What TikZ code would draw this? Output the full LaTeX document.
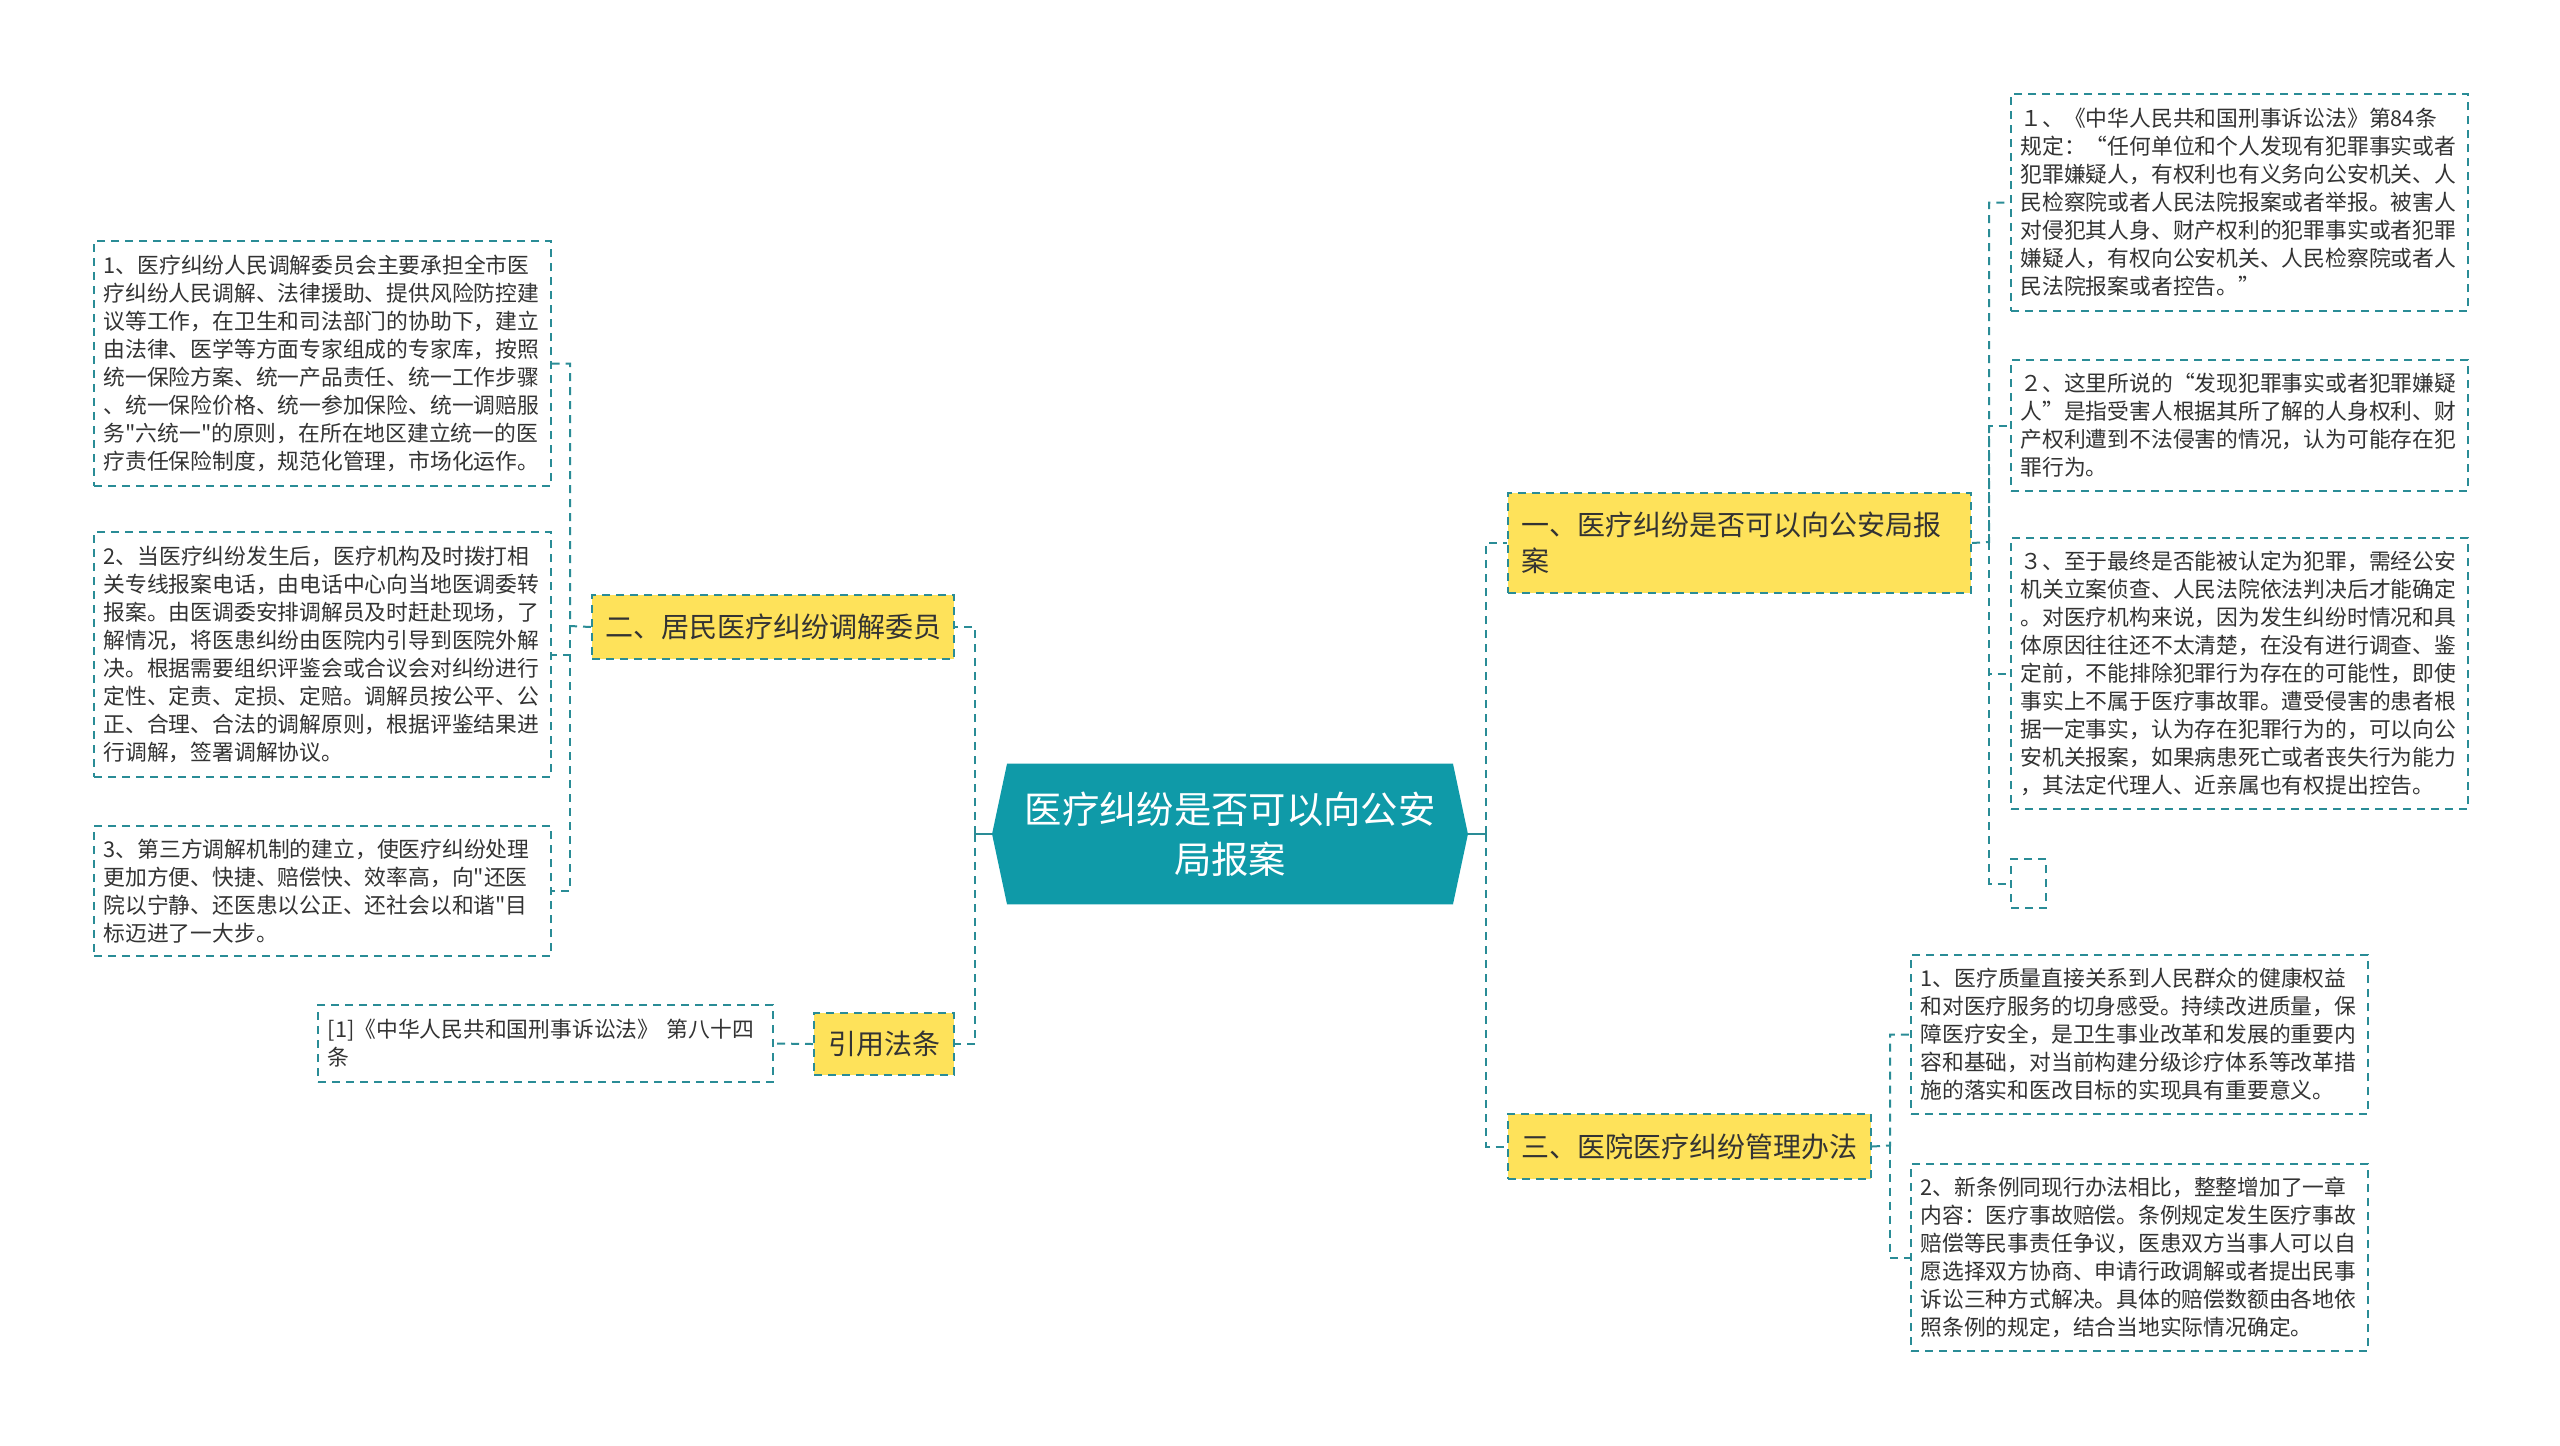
\documentclass[tikz,border=0pt]{standalone}
\usepackage{fontspec}
\setmainfont{Noto Sans CJK SC}
\newfontfamily\cjk{Noto Sans CJK SC}
\usepackage{tikz}
\usetikzlibrary{calc,backgrounds}

\definecolor{linkteal}{HTML}{2A8C96}
\definecolor{rootteal}{HTML}{0F9AA8}
\definecolor{topicyellow}{HTML}{FEE25A}
\definecolor{textgray}{HTML}{333333}

\tikzset{
  link/.style={draw=linkteal,line width=0.9pt,dash pattern=on 3.6pt off 2.7pt},
  leafbox/.style={draw=linkteal,line width=0.9pt,dash pattern=on 3.6pt off 2.7pt,anchor=north west,inner sep=0pt},
  leaf/.style={leafbox,text=textgray,font=\cjk\fontsize{9.8}{12.6}\selectfont,align=left,text width=197pt,inner xsep=4.3pt,minimum width=205.65pt},
  topic/.style={leafbox,fill=topicyellow,text=textgray,font=\cjk\fontsize{12.6}{16.2}\selectfont},
}

\begin{document}
\begin{tikzpicture}[x=0.45pt,y=-0.45pt]
        \useasboundingbox (0,0) rectangle (2560,1445);

        % centre
        \node[text=white,font=\cjk\fontsize{16.8}{22.5}\selectfont,align=center,minimum width=213.75pt,minimum height=63pt,inner sep=0pt](root)at(1230,834){医疗纠纷是否可以向公安\\局报案};
        \begin{scope}[on background layer]
            \fill[white] (0,0) rectangle (2560,1445);
            \fill[rootteal] ($(root.north west)+(15,0)$) -- ($(root.north east)+(-15,0)$) -- (root.east) -- ($(root.south east)+(-15,0)$) -- ($(root.south west)+(15,0)$) -- (root.west) -- cycle;
        \end{scope}

        % left side
        \node[topic,minimum width=162.9pt,minimum height=28.8pt](med)at(591,594){二、居民医疗纠纷调解委员};
        \node[topic,minimum width=63pt,minimum height=27.9pt](law)at(813,1012){引用法条};

        \node[leaf,minimum height=110.25pt](l1)at(93,240){1、医疗纠纷人民调解委员会主要承担全市医\\疗纠纷人民调解、法律援助、提供风险防控建\\议等工作，在卫生和司法部门的协助下，建立\\由法律、医学等方面专家组成的专家库，按照\\统一保险方案、统一产品责任、统一工作步骤\\、统一保险价格、统一参加保险、统一调赔服\\务"六统一"的原则，在所在地区建立统一的医\\疗责任保险制度，规范化管理，市场化运作。};
        \node[leaf,minimum height=110.25pt](l2)at(93,531){2、当医疗纠纷发生后，医疗机构及时拨打相\\关专线报案电话，由电话中心向当地医调委转\\报案。由医调委安排调解员及时赶赴现场，了\\解情况，将医患纠纷由医院内引导到医院外解\\决。根据需要组织评鉴会或合议会对纠纷进行\\定性、定责、定损、定赔。调解员按公平、公\\正、合理、合法的调解原则，根据评鉴结果进\\行调解，签署调解协议。};
        \node[leaf,minimum height=58.5pt](l3)at(93,825){3、第三方调解机制的建立，使医疗纠纷处理\\更加方便、快捷、赔偿快、效率高，向"还医\\院以宁静、还医患以公正、还社会以和谐"目\\标迈进了一大步。};
        \node[leaf,minimum width=204.75pt,text width=196pt,minimum height=34.65pt](ref)at(317,1004){[1]《中华人民共和国刑事诉讼法》 第八十四\\条};

        % right side
        \node[topic,align=left,text width=196.65pt,inner xsep=5.85pt,minimum height=45pt](q1)at(1507,492){一、医疗纠纷是否可以向公安局报\\案};
        \node[topic,minimum width=163.35pt,minimum height=29.25pt](q3)at(1507,1113){三、医院医疗纠纷管理办法};

        \node[leaf,minimum height=97.65pt](r1)at(2010,93){１、《中华人民共和国刑事诉讼法》第84条\\规定：“任何单位和个人发现有犯罪事实或者\\犯罪嫌疑人，有权利也有义务向公安机关、人\\民检察院或者人民法院报案或者举报。被害人\\对侵犯其人身、财产权利的犯罪事实或者犯罪\\嫌疑人，有权向公安机关、人民检察院或者人\\民法院报案或者控告。”};
        \node[leaf,minimum height=58.95pt](r2)at(2010,359){２、这里所说的“发现犯罪事实或者犯罪嫌疑\\人”是指受害人根据其所了解的人身权利、财\\产权利遭到不法侵害的情况，认为可能存在犯\\罪行为。};
        \node[leaf,minimum height=121.95pt](r3)at(2010,537){３、至于最终是否能被认定为犯罪，需经公安\\机关立案侦查、人民法院依法判决后才能确定\\。对医疗机构来说，因为发生纠纷时情况和具\\体原因往往还不太清楚，在没有进行调查、鉴\\定前，不能排除犯罪行为存在的可能性，即使\\事实上不属于医疗事故罪。遭受侵害的患者根\\据一定事实，认为存在犯罪行为的，可以向公\\安机关报案，如果病患死亡或者丧失行为能力\\，其法定代理人、近亲属也有权提出控告。};
        \node[leafbox,minimum width=15.75pt,minimum height=22.05pt](r4)at(2010,858){};

        \node[leaf,minimum height=71.55pt](s1)at(1910,954){1、医疗质量直接关系到人民群众的健康权益\\和对医疗服务的切身感受。持续改进质量，保\\障医疗安全，是卫生事业改革和发展的重要内\\容和基础，对当前构建分级诊疗体系等改革措\\施的落实和医改目标的实现具有重要意义。};
        \node[leaf,minimum height=84.15pt](s2)at(1910,1163){2、新条例同现行办法相比，整整增加了一章\\内容：医疗事故赔偿。条例规定发生医疗事故\\赔偿等民事责任争议，医患双方当事人可以自\\愿选择双方协商、申请行政调解或者提出民事\\诉讼三种方式解决。具体的赔偿数额由各地依\\照条例的规定，结合当地实际情况确定。};

        % connectors
        \coordinate (rootl) at (975,834);
        \coordinate (rootr) at (1486,834);
        \coordinate (medl) at (570,626);
        \coordinate (q1r) at (1989,542);
        \coordinate (q3r) at (1890,1145.5);

        \draw[link,solid] (root.west) -- (rootl);
        \draw[link] (rootl) |- (med.east);
        \draw[link] (rootl) |- (law.east);
        \draw[link] (law.west) -- (ref.east);

        \draw[link] (med.west) -- (medl) |- (l1.east);
        \draw[link] (medl) |- (l2.east);
        \draw[link] (medl) |- (l3.east);

        \draw[link,solid] (root.east) -- (rootr);
        \draw[link] (rootr) |- (q1.west);
        \draw[link] (rootr) |- (q3.west);

        \draw[link] (q1.east) -- (q1r) |- (r1.west);
        \draw[link] (q1r) |- (r2.west);
        \draw[link] (q1r) |- (r3.west);
        \draw[link] (q1r) |- (r4.west);

        \draw[link] (q3.east) -- (q3r) |- (s1.west);
        \draw[link] (q3r) |- (s2.west);
\end{tikzpicture}
\end{document}
